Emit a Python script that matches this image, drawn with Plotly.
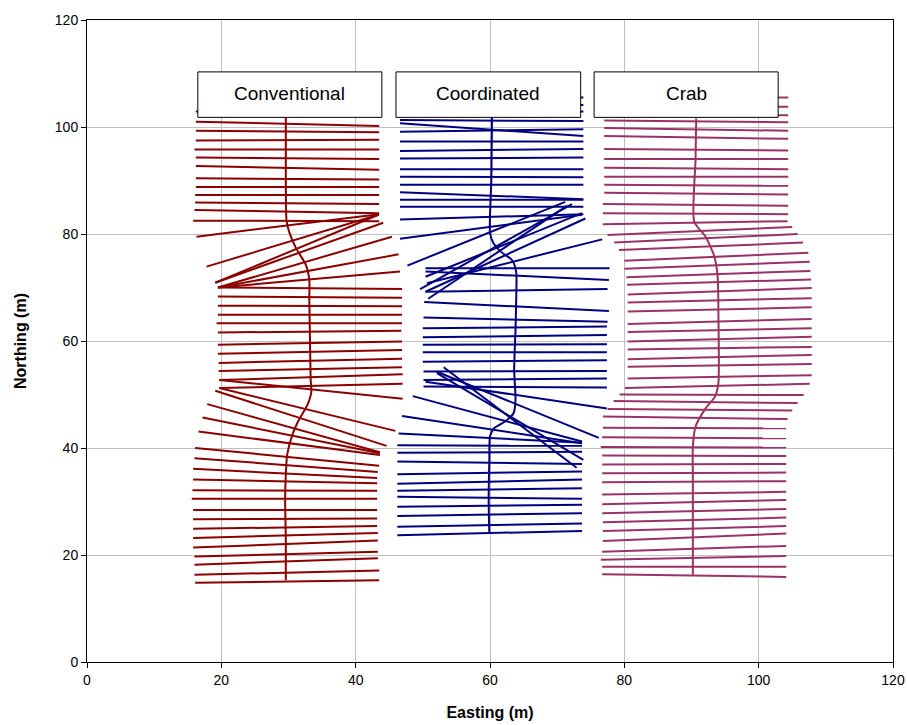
import plotly.graph_objects as go

# ---------------- Conventional ----------------
conv_x1 = [16.1, 16.0, 16.0, 16.0, 15.8, 15.8, 15.8, 15.8, 15.8, 15.6, 15.7, 15.8, 15.8, 16.0, 16.1,
           16.6, 17.2, 17.9, 19.1, 19.7, 19.7,
           19.7, 19.7, 19.6, 19.6, 19.5, 19.5, 19.5, 19.3, 19.5, 19.5, 19.5, 19.5,
           19.5, 19.5, 19.5, 19.1, 19.1, 17.8, 16.3,
           15.8, 16.0, 16.1, 16.1, 16.2, 16.2, 16.2, 16.2, 16.0, 16.2, 16.2, 16.2, 16.2]
conv_y1 = [14.8, 16.3, 18.2, 19.7, 21.4, 23.2, 24.9, 26.7, 28.4, 30.5, 32.1, 34.1, 36.1, 38.1, 40.0,
           43.1, 45.7, 48.2, 50.7, 51.2, 52.7,
           51.2, 52.7, 54.4, 55.9, 57.6, 59.3, 61.6, 63.3, 64.9, 66.6, 68.3, 70.0,
           70.0, 70.0, 70.0, 70.9, 70.9, 73.9, 79.5,
           82.5, 84.5, 85.9, 87.3, 88.8, 90.4, 92.7, 94.3, 95.8, 97.5, 99.3, 101.0, 102.9]
conv_x2 = [43.5, 43.5, 43.3, 43.3, 43.3, 43.3, 43.2, 43.2, 43.2, 43.2, 43.2, 43.2, 43.2, 43.3, 43.5,
           43.6, 43.6, 43.6, 44.6, 45.9, 47.0,
           47.0, 47.0, 46.9, 46.9, 46.9, 46.9, 46.8, 46.9, 46.9, 46.9, 46.9, 46.9,
           46.6, 46.4, 45.4, 44.1, 43.4, 43.4, 43.5,
           43.5, 43.5, 43.5, 43.5, 43.5, 43.5, 43.5, 43.5, 43.5, 43.5, 43.5, 43.5, 43.5]
conv_y2 = [15.3, 17.1, 19.4, 20.6, 22.7, 24.1, 25.4, 26.8, 28.4, 30.5, 32.0, 33.4, 34.4, 35.5, 36.7,
           38.7, 39.0, 39.2, 40.4, 43.2, 49.2,
           52.0, 53.8, 55.1, 56.7, 58.3, 59.9, 61.9, 63.3, 64.9, 66.5, 68.1, 69.7,
           73.0, 76.2, 79.5, 82.1, 83.6, 83.6, 83.7,
           82.4, 83.9, 85.6, 87.3, 88.8, 90.2, 92.0, 94.0, 95.8, 97.6, 99.0, 100.2, 102.8]
conv_path_x = [29.6, 29.6, 29.7, 30.1, 31.1, 32.6, 33.1, 33.1, 33.2, 33.3, 33.4, 32.8, 31.4, 30.5, 29.8, 29.6, 29.5, 29.6, 29.6]
conv_path_y = [101.9, 93.8, 82.6, 80.4, 77.4, 74.2, 71.4, 67.7, 60.2, 52.7, 50.5, 48.0, 44.9, 42.2, 38.7, 35.0, 30.3, 22.8, 15.3]

# ---------------- Coordinated ----------------
coord_x1 = [46.6, 46.6, 46.6, 46.6, 46.6, 46.6, 46.6, 46.6, 46.6, 46.6, 46.6, 46.6, 46.6, 46.6, 46.6, 46.6,
            46.6, 47.7, 49.6, 50.4, 50.8, 50.4, 50.6,
            50.4, 50.4, 50.4, 50.2, 50.1, 50.0, 50.0, 50.0, 50.0, 50.0, 50.1, 50.1, 50.1,
            50.4, 52.0, 53.1, 52.1, 48.5, 46.9,
            46.4, 46.2, 46.2, 46.2, 46.2, 46.2, 46.2, 46.2, 46.2, 46.2, 46.2, 46.2]
coord_y1 = [105.5, 104.1, 102.9, 101.3, 100.7, 99.1, 97.3, 95.5, 94.1, 92.1, 90.7, 89.2, 87.8, 86.4, 85.1, 82.7,
            79.1, 74.1, 69.7, 72.0, 67.9, 69.2, 70.8,
            73.6, 73.0, 69.2, 67.3, 64.4, 62.4, 60.7, 59.3, 57.9, 56.1, 54.3, 52.7, 51.5,
            52.4, 54.3, 55.1, 54.0, 49.7, 46.0,
            42.7, 40.5, 39.1, 37.5, 35.1, 33.3, 32.0, 30.9, 29.0, 27.3, 25.3, 23.7]
coord_x2 = [73.9, 73.9, 73.9, 73.9, 73.9, 73.9, 73.9, 73.9, 73.9, 73.9, 73.9, 73.9, 73.9, 73.9, 73.9, 73.9,
            73.7, 71.2, 72.2, 73.7, 71.5, 74.2, 76.7,
            77.8, 77.7, 77.5, 77.7, 77.5, 77.4, 77.4, 77.4, 77.4, 77.4, 77.4, 77.4, 77.4,
            77.4, 76.2, 72.9, 73.9, 73.7, 73.7,
            73.7, 73.7, 73.7, 73.7, 73.7, 73.7, 73.7, 73.7, 73.7, 73.7, 73.7, 73.7]
coord_y2 = [105.5, 104.1, 102.9, 101.1, 98.3, 99.6, 97.3, 95.9, 94.3, 92.1, 90.6, 89.2, 86.5, 86.4, 85.1, 83.7,
            83.6, 86.0, 85.6, 83.9, 85.3, 82.9, 79.0,
            73.6, 71.4, 69.7, 65.6, 63.6, 62.7, 61.1, 59.4, 57.9, 56.4, 54.4, 53.0, 51.3,
            47.4, 41.9, 36.3, 37.8, 41.2, 40.9,
            41.0, 40.4, 39.3, 37.0, 35.6, 34.1, 32.5, 30.5, 29.4, 27.8, 25.9, 24.5]
coord_path_x = [60.3, 60.2, 60.0, 60.5, 61.5, 63.3, 63.9, 63.9, 63.8, 63.6, 63.8, 63.5, 62.3, 60.6, 60.0, 59.9, 59.8, 59.9]
coord_path_y = [101.7, 90.1, 80.2, 78.3, 76.8, 75.1, 72.9, 67.7, 62.1, 54.6, 49.0, 46.5, 45.0, 43.7, 42.2, 37.8, 30.3, 24.1]

# ---------------- Crab ----------------
crab_x1 = [77.0, 77.0, 77.0, 77.0, 77.0, 77.0, 77.0, 77.0, 77.0, 77.0, 77.0, 77.0, 76.8, 76.8,
           76.8, 77.5, 78.5, 79.2, 80.0, 80.0, 80.3, 80.4, 80.5, 80.5, 80.5, 80.5, 80.5, 80.5,
           80.5, 80.5, 80.5, 80.5, 80.1, 79.3, 78.4, 77.5, 76.8, 76.8, 76.7, 76.5, 76.7, 76.7,
           76.7, 76.7, 76.7, 76.7, 76.7, 76.8, 76.8, 76.8, 76.7, 76.5, 76.7, 76.7]
crab_y1 = [105.5, 103.8, 102.2, 101.2, 99.8, 98.3, 95.9, 94.0, 92.4, 90.7, 89.2, 87.7, 85.6, 83.9,
           81.8, 79.8, 78.4, 77.0, 75.0, 73.5, 71.9, 70.5, 68.7, 67.2, 65.5, 63.2, 61.7, 59.9,
           58.4, 56.6, 55.2, 53.0, 51.2, 50.0, 48.8, 47.3, 45.9, 43.8, 42.0, 40.2, 38.6, 36.9,
           35.3, 33.6, 31.3, 29.5, 27.8, 26.1, 24.5, 22.6, 20.6, 19.1, 17.8, 16.4]
crab_x2 = [104.4, 104.4, 104.4, 104.4, 104.4, 104.4, 104.4, 104.4, 104.4, 104.4, 104.4, 104.4, 104.4, 104.4,
           104.3, 105.0, 105.8, 106.6, 107.4, 107.6, 107.7, 107.8, 107.9, 107.9, 107.9, 107.9, 107.9, 107.9,
           107.9, 107.9, 107.9, 107.9, 107.6, 106.7, 105.8, 105.0, 104.3, 104.1, 104.1, 104.1, 104.1, 104.1,
           104.1, 104.1, 104.1, 104.1, 104.1, 104.1, 104.1, 104.1, 104.1, 104.1, 104.1, 104.1]
crab_y2 = [105.5, 103.8, 102.2, 100.9, 99.3, 97.8, 95.6, 94.0, 92.1, 90.7, 89.0, 87.4, 85.3, 83.7,
           82.4, 81.3, 80.0, 78.4, 76.5, 74.8, 73.1, 71.5, 69.9, 68.0, 66.3, 64.1, 62.4, 60.8,
           58.9, 57.4, 55.7, 53.6, 52.0, 49.9, 48.4, 47.0, 45.4, 43.7, 41.8, 40.1, 38.5, 37.0,
           35.4, 33.8, 31.8, 30.3, 28.6, 27.0, 25.4, 24.0, 21.7, 19.8, 17.8, 15.9]
crab_path_x = [90.7, 90.6, 90.4, 92.1, 93.4, 93.9, 94.0, 94.0, 93.5, 92.1, 90.6, 90.2, 90.2, 90.2]
crab_path_y = [101.6, 93.8, 82.3, 79.5, 75.8, 72.0, 65.8, 52.1, 49.6, 47.4, 44.0, 40.2, 34.0, 16.3]

# ---------------- Labels ----------------
label_text = ["Conventional", "Coordinated", "Crab"]
label_x0 = [16.5, 46.0, 75.5]
label_x1 = [43.9, 73.5, 102.9]
label_y0 = [101.8, 101.8, 101.8]
label_y1 = [110.3, 110.3, 110.3]

x_ticks = [0, 20, 40, 60, 80, 100, 120]
y_ticks = [0, 20, 40, 60, 80, 100, 120]

FONT = "Liberation Sans, Arial, sans-serif"


def seg_xy(x1, y1, x2, y2):
    xs, ys = [], []
    for a, b, c, d in zip(x1, y1, x2, y2):
        xs += [a, c, None]
        ys += [b, d, None]
    return xs, ys


groups = [
    (conv_x1, conv_y1, conv_x2, conv_y2, conv_path_x, conv_path_y, "#8B0000"),
    (coord_x1, coord_y1, coord_x2, coord_y2, coord_path_x, coord_path_y, "#000080"),
    (crab_x1, crab_y1, crab_x2, crab_y2, crab_path_x, crab_path_y, "#993366"),
]

fig = go.Figure()
for x1, y1, x2, y2, px, py, col in groups:
    sx, sy = seg_xy(x1, y1, x2, y2)
    fig.add_trace(go.Scatter(x=sx, y=sy, mode="lines", line=dict(color=col, width=2),
                             hoverinfo="skip", showlegend=False))
    fig.add_trace(go.Scatter(x=px, y=py, mode="lines",
                             line=dict(color=col, width=2, shape="spline", smoothing=0.6),
                             hoverinfo="skip", showlegend=False))

for t, a, b, c, d in zip(label_text, label_x0, label_x1, label_y0, label_y1):
    fig.add_shape(type="rect", xref="x", yref="y", x0=a, x1=b, y0=c, y1=d,
                  line=dict(color="black", width=1), fillcolor="white", layer="above")
    fig.add_annotation(x=(a + b) / 2, y=(c + d) / 2 + 0.3, xref="x", yref="y", text=t, showarrow=False,
                       font=dict(family=FONT, size=19, color="black"))

axis_common = dict(showgrid=True, gridcolor="#c0c0c0", gridwidth=1, showline=True, linecolor="black",
                   linewidth=1, mirror=True, ticks="outside", ticklen=5, tickcolor="black", zeroline=False,
                   automargin=False, tickfont=dict(family=FONT, size=14, color="black"))

fig.update_layout(
    width=907, height=725,
    margin=dict(l=87, r=14, t=20, b=63),
    plot_bgcolor="white", paper_bgcolor="white",
    showlegend=False,
    xaxis=dict(range=[0, 120], tickvals=x_ticks,
               title=dict(text="<b>Easting (m)</b>", standoff=20,
                          font=dict(family=FONT, size=16, color="black")), **axis_common),
    yaxis=dict(range=[0, 120], tickvals=y_ticks,
               title=dict(text="<b>Northing (m)</b>", standoff=24,
                          font=dict(family=FONT, size=16, color="black")), **axis_common),
)

fig.write_html("out.html", config={"displayModeBar": False},
               post_script="document.body.style.margin='0';document.body.style.overflow='hidden';")
